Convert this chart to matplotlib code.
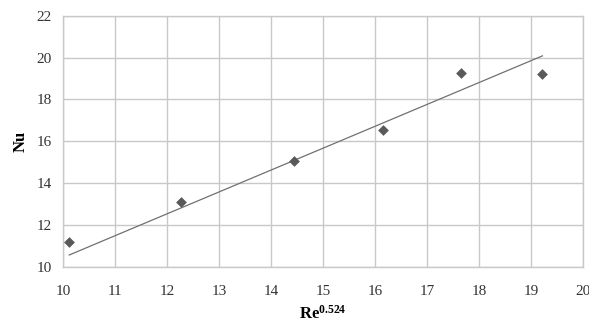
import matplotlib
matplotlib.use("Agg")
import matplotlib.pyplot as plt

re_x = [10.12, 12.27, 14.44, 16.16, 17.65, 19.22]
nu_y = [11.17, 13.08, 15.06, 16.54, 19.28, 19.22]
trend_x = [10.12, 19.22]
trend_y = [10.56, 20.08]
xticks = [10, 11, 12, 13, 14, 15, 16, 17, 18, 19, 20]
yticks = [10, 12, 14, 16, 18, 20, 22]

plt.rcParams['font.family'] = ['Liberation Serif', 'DejaVu Serif']
plt.rcParams['mathtext.fontset'] = 'custom'
plt.rcParams['mathtext.rm'] = 'Liberation Serif'
plt.rcParams['mathtext.it'] = 'Liberation Serif:italic'
plt.rcParams['mathtext.bf'] = 'Liberation Serif:bold'

fig = plt.figure(figsize=(5.89, 3.22), dpi=100)
ax = fig.add_axes([63/589, 1 - 266.7/322, 520/589, 251/322])

ax.plot(trend_x, trend_y, color='#707070', lw=0.9, zorder=3)
ax.scatter(re_x, nu_y, marker='D', s=30, color='#595959', zorder=4, linewidths=0)

ax.set_xlim(10, 20)
ax.set_ylim(10, 22)
ax.set_xticks(xticks)
ax.set_yticks(yticks)
ax.grid(True, color='#c8c8c8', lw=1.0)
ax.set_axisbelow(True)
for s in ax.spines.values():
    s.set_color('#c8c8c8')
    s.set_linewidth(1.0)
ax.tick_params(axis='x', length=0, labelsize=11, pad=13)
ax.tick_params(axis='y', length=0, labelsize=11, pad=8)
for lab in ax.get_xticklabels() + ax.get_yticklabels():
    lab.set_color('#333333')

ax.set_xlabel(r'Re$^{\mathbf{0.524}}$', fontsize=12, fontweight='bold', labelpad=5)
ax.set_ylabel('Nu', fontsize=12, fontweight='bold', labelpad=6)

fig.savefig('out.png', dpi=100)
